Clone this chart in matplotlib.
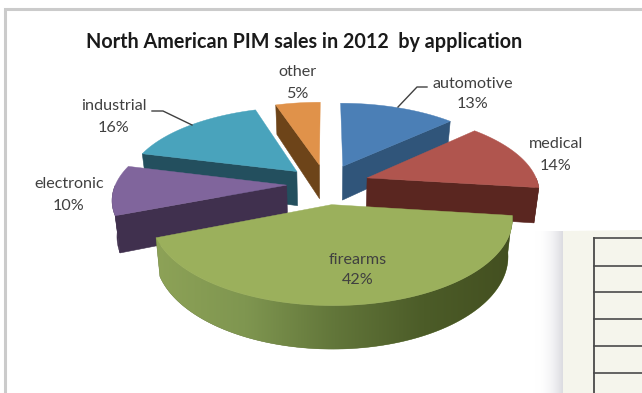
#!/usr/bin/env python3
"""Exploded 3D pie chart of North American PIM sales by application."""

import numpy as np
import matplotlib
matplotlib.use('Agg')
import matplotlib.pyplot as plt
from matplotlib.colors import to_rgb
from matplotlib.patches import Polygon

plt.rcParams['font.family'] = ['Lato', 'DejaVu Sans']

# chart data, clockwise from 12 o'clock
categories = ['automotive', 'medical', 'firearms', 'electronic', 'industrial', 'other']
shares = [13, 14, 42, 10, 16, 5]

top_colors = ['#4b7fb6', '#b0554e', '#9bb05c', '#80659c', '#49a3bc', '#e0924a']
side_colors = ['#30557a', '#5a2620', '#66793c', '#40304e', '#234f5e', '#6d4419']
explode = [0.256, 0.256, 0.256, 0.23, 0.24, 0.256]
draw_order = ['other', 'automotive', 'industrial', 'electronic', 'medical', 'firearms']

label_pos = {
    'automotive': (473, 83.5), 'medical': (556, 144.5), 'firearms': (358, 259.5),
    'electronic': (69, 184.5), 'industrial': (114, 106.5), 'other': (297, 72.5),
}

# projection of the pie plane onto the canvas (pixels, y down)
CX, CY = 326, 184
RX, RY = 171, 78
PERSP = 0.156
DEPTH = 35
BOTTOM_SHRINK = 0.977
SLICE_Z = 2


def project(theta, radius, mid, offset, bottom=False):
    """Map a polar point of an exploded slice to canvas pixels."""
    x = radius * np.sin(theta) + offset * np.sin(mid)
    y = radius * np.cos(theta) + offset * np.cos(mid)
    s = 1 / (1 + PERSP * y)
    px = RX * x * s
    py = CY - RY * y * s
    if bottom:
        px = px * BOTTOM_SHRINK
        py = py + DEPTH * s
    return CX + px, py


def draw_rim(ax, front, mid, offset, side, gradient):
    tx, ty = project(front, 1.0, mid, offset)
    bx, by = project(front, 1.0, mid, offset, bottom=True)
    pts = np.column_stack([np.r_[tx, bx[::-1]], np.r_[ty, by[::-1]]])
    rim = Polygon(pts, closed=True, fc=side, ec=side, lw=0.3, zorder=SLICE_Z)
    ax.add_patch(rim)
    if gradient:
        # light falls from the left, so the big rim darkens going right
        k = np.linspace(0, 1, 256)
        stops = [0.0, 0.25, 0.5, 0.75, 1.0]
        rgb = np.array([to_rgb(c) for c in ['#8da257', '#7f9650', '#62763a', '#4c5c28', '#434f20']])
        img = np.stack([np.interp(k, stops, rgb[:, i]) for i in range(3)], axis=-1)[None, :, :]
        im = ax.imshow(img, extent=(pts[:, 0].min(), pts[:, 0].max(), pts[:, 1].max(), pts[:, 1].min()),
                       aspect='auto', zorder=SLICE_Z, interpolation='bilinear')
        im.set_clip_path(rim)


def draw_slice(ax, start, end, offset, top, side, gradient=False):
    mid = (start + end) / 2
    thetas = np.linspace(start, end, 120)

    # a cut face shows when the slice lies further back than its edge
    for edge in (start, end):
        if np.cos(mid) - np.cos(edge) > 0:
            ends = np.array([0.0, 1.0])
            ux, uy = project(edge, ends, mid, offset)
            lx, ly = project(edge, ends, mid, offset, bottom=True)
            pts = [(ux[0], uy[0]), (ux[1], uy[1]), (lx[1], ly[1]), (lx[0], ly[0])]
            ax.add_patch(Polygon(pts, closed=True, fc=side, ec=side, lw=0.4, zorder=SLICE_Z))

    # outer rim on the front half of the pie
    front = thetas[(thetas > np.pi / 2) & (thetas < 3 * np.pi / 2)]
    if len(front) > 1:
        draw_rim(ax, front, mid, offset, side, gradient)

    # top surface
    ox, oy = project(0.0, 0.0, mid, offset)
    rx, ry = project(thetas, 1.0, mid, offset)
    pts = np.column_stack([np.r_[ox, rx], np.r_[oy, ry]])
    ax.add_patch(Polygon(pts, closed=True, fc=top, ec=top, lw=0.3, zorder=SLICE_Z))


def draw_background(ax):
    # chart frame, open at the right and bottom
    ax.plot([5, 5, 642], [393, 8.5, 8.5], color='#cbcbcb', lw=2.2, solid_joinstyle='miter')

    # worksheet panel lying over the corner, with its soft shadow
    shadow = np.linspace(0, 1, 60)[None, :] ** 2.2
    rgb = np.ones((1, 60, 3)) - shadow[..., None] * np.array([0.14, 0.14, 0.12])
    ax.imshow(rgb, extent=(535, 563, 393, 231), aspect='auto', zorder=1)
    ax.add_patch(Polygon([(563, 231), (642, 230), (642, 393), (563, 393)], closed=True,
                         fc='#f5f5ec', ec='none', zorder=1))
    for y in [238, 266, 292, 319, 346, 373]:
        ax.plot([594, 642], [y, y], color='#4a4a4a', lw=1.2, zorder=1)
    ax.plot([594, 594], [238, 393], color='#4a4a4a', lw=1.3, zorder=1)


def main():
    fig = plt.figure(figsize=(6.42, 3.93), dpi=100)
    ax = fig.add_axes([0, 0, 1, 1])
    draw_background(ax)

    edges = 2 * np.pi * np.cumsum([0] + shares) / sum(shares)
    for name in draw_order:
        i = categories.index(name)
        draw_slice(ax, edges[i], edges[i + 1], explode[i], top_colors[i], side_colors[i],
                   gradient=name == 'firearms')

    # leader lines for the two labels sitting off their slices
    ax.plot([152, 163, 192], [111, 111, 125], color='#404040', lw=1.0, zorder=3)
    ax.plot([427, 417, 398], [87, 87, 107], color='#404040', lw=1.0, zorder=3)

    for name, share in zip(categories, shares):
        x, y = label_pos[name]
        ax.text(x, y, name, ha='center', va='center', fontsize=11.6, color='#404040', zorder=4)
        ax.text(x, y + 21, f'{share}%', ha='center', va='center', fontsize=11.6, color='#404040', zorder=4)

    ax.text(304.5, 42.5, 'North American PIM sales in 2012  by application', ha='center', va='center',
            fontsize=14.2, fontweight='bold', color='#1a1a1a', zorder=4)

    ax.set_xlim(0, 642)
    ax.set_ylim(393, 0)
    ax.axis('off')
    fig.savefig('out.png', dpi=100)


if __name__ == "__main__":
    main()
